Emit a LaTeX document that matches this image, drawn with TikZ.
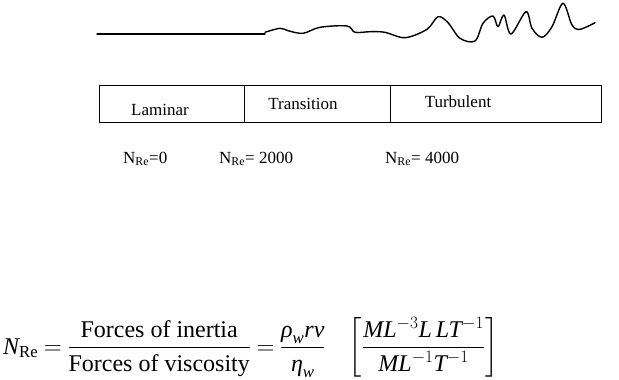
\documentclass[tikz,border=0pt]{standalone}
\usepackage{amsmath}
\usepackage{fontspec}
\setmainfont{Liberation Serif}

\tikzset{
 flow/.style={line width=1.4pt, line join=round, line cap=round},
 zone/.style={draw, line width=0.9pt, minimum height=37, inner sep=0pt, anchor=north west},
 lbl/.style={font=\fontsize{17}{20}\selectfont, inner sep=0pt, anchor=base},
 renum/.style={font=\fontsize{17}{20}\selectfont, inner sep=0pt, anchor=base west}
}
\newcommand{\mi}[1]{\text{\itshape #1}}

\begin{document}
\begin{tikzpicture}[x=1pt,y=-1pt]
 \useasboundingbox (0,0) rectangle (619,380);
 \draw[flow] (97,34)--(265,34);
 \draw[flow] plot[smooth,tension=0.55] coordinates {(265,32.3) (280,28.3) (288,30.7) (303,33.3) (320,27.3) (347,26) (355,32.3) (370,31.7) (385,32.3) (405,37.7) (427,29.3) (438,16.7) (448,22.7) (460,38.3) (475,41) (483,23.3) (493,16) (498,26.7) (504,15) (511,34) (526,11.7) (532,28.3) (542,37.3) (552,26.7) (563,3.3) (572,25) (580,29.3) (595,22.7)};
 \node[zone, minimum width=145] (lam) at (99,85) {};
 \node[zone, minimum width=146] (tra) at (244,85) {};
 \node[zone, minimum width=211] (tur) at (390,85) {};
 \node[lbl] (laminar) at (160,115) {Laminar};
 \node[lbl] (transition) at (303,109) {Transition};
 \node[lbl] (turbulent) at (458,107) {Turbulent};
 \node[renum] (re0) at (123,163) {N\textsubscript{Re}=0};
 \node[renum] (re2000) at (219,163) {N\textsubscript{Re}= 2000};
 \node[renum] (re4000) at (385,163) {N\textsubscript{Re}= 4000};
 \node[anchor=base west, inner sep=0pt, font=\fontsize{24}{28}\selectfont] (reynolds) at (3,354)
  {$\thickmuskip=4mu \mi{N}_{\text{Re}} = \dfrac{\text{Forces of inertia}}{\text{Forces of viscosity}} = \dfrac{\mi{ρ}_{\mi{w}}\mi{rv}}{\mi{η}_{\mi{w}}}\hspace{0.8em}\left[\dfrac{\mi{ML}^{-3}\mi{L\,LT}^{-1}}{\mi{ML}^{-1}\mi{T}^{-1}}\right]$};
\end{tikzpicture}
\end{document}
